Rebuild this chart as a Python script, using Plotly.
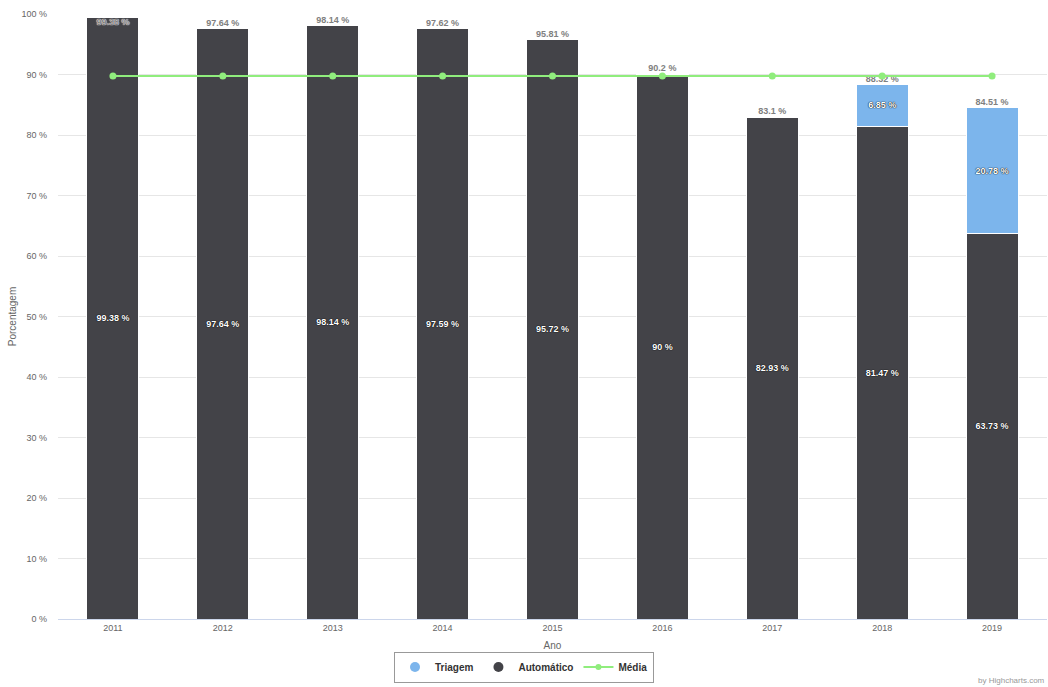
import plotly.graph_objects as go

# Series values per year (percent)
anos = ["2011", "2012", "2013", "2014", "2015", "2016", "2017", "2018", "2019"]
automatico = [99.38, 97.64, 98.14, 97.59, 95.72, 90.00, 82.93, 81.47, 63.73]
triagem = [0.00, 0.00, 0.00, 0.03, 0.09, 0.20, 0.17, 6.85, 20.78]
media = [89.75, 89.75, 89.75, 89.75, 89.75, 89.75, 89.75, 89.75, 89.75]
y_ticks = [0, 10, 20, 30, 40, 50, 60, 70, 80, 90, 100]

totais = [round(a + t, 2) for a, t in zip(automatico, triagem)]

FONT = "Liberation Sans, Arial, Helvetica, sans-serif"
COR_TRIAGEM = "#7cb5ec"
COR_AUTO = "#434348"
COR_MEDIA = "#90ed7d"


def fmt(v):
    return f"{v:g} %"


inside_font = dict(family=FONT, size=9, color="white", weight="bold",
                   shadow="0px 0px 1px #000, 0px 0px 1px #000")

fig = go.Figure()

fig.add_trace(go.Bar(
    x=anos, y=automatico, name="Automático", showlegend=False,
    marker=dict(color=COR_AUTO, line=dict(color="white", width=1)),
    text=[fmt(v) for v in automatico], textposition="inside",
    insidetextanchor="middle", textangle=0, constraintext="none",
    textfont=inside_font, hoverinfo="skip",
))
fig.add_trace(go.Bar(
    x=anos, y=triagem, name="Triagem", showlegend=False,
    marker=dict(color=COR_TRIAGEM, line=dict(color="white", width=1)),
    text=[fmt(v) if v >= 1 else "" for v in triagem], textposition="inside",
    insidetextanchor="middle", textangle=0, constraintext="none",
    textfont=inside_font, hoverinfo="skip",
))

# Stack totals above each column
fig.add_trace(go.Scatter(
    x=anos, y=totais, mode="text", showlegend=False,
    text=[fmt(v) for v in totais],
    textposition=["bottom center" if v > 99 else "top center" for v in totais],
    textfont=dict(family=FONT, size=9, color="#808080", weight="bold",
                  shadow="0px 0px 1px #fff, 0px 0px 1px #fff"),
    cliponaxis=False, hoverinfo="skip",
))

fig.add_trace(go.Scatter(
    x=anos, y=media, name="Média", mode="lines+markers",
    line=dict(color=COR_MEDIA, width=2),
    marker=dict(color=COR_MEDIA, size=7, symbol="circle"),
    showlegend=False, hoverinfo="skip",
))

# Legend entries with round symbols
fig.add_trace(go.Scatter(x=[None], y=[None], mode="markers", name="Triagem",
                         marker=dict(color=COR_TRIAGEM, size=10, symbol="circle")))
fig.add_trace(go.Scatter(x=[None], y=[None], mode="markers", name="Automático",
                         marker=dict(color=COR_AUTO, size=10, symbol="circle")))
fig.add_trace(go.Scatter(x=[None], y=[None], mode="lines+markers", name="Média",
                         line=dict(color=COR_MEDIA, width=2),
                         marker=dict(color=COR_MEDIA, size=6, symbol="circle")))

fig.update_layout(
    width=1048, height=687,
    margin=dict(l=58, r=1, t=14, b=68),
    barmode="stack", bargap=0.527,
    paper_bgcolor="white", plot_bgcolor="white",
    font=dict(family=FONT, size=9, color="#666666"),
    xaxis=dict(
        type="category", categoryorder="array", categoryarray=anos,
        showline=True, linecolor="#ccd6eb", linewidth=1,
        showgrid=False, ticks="", tickfont=dict(size=9, color="#666666"),
        automargin=False,
        title=dict(text="Ano", font=dict(size=10, color="#666666"), standoff=10),
    ),
    yaxis=dict(
        range=[0, 100], tickvals=y_ticks, ticktext=[f"{v} %" for v in y_ticks],
        showgrid=True, gridcolor="#e6e6e6", gridwidth=1, zeroline=False,
        tickfont=dict(size=9, color="#666666"), ticklabelstandoff=10,
        automargin=False,
        title=dict(text="Porcentagem", font=dict(size=10, color="#666666"), standoff=2),
    ),
    legend=dict(
        orientation="h", xref="container", yref="container",
        x=0.5, xanchor="center", y=0.029, yanchor="middle",
        bordercolor="#999999", borderwidth=1, bgcolor="white",
        font=dict(family=FONT, size=10, color="#333333", weight="bold"),
        traceorder="normal", tracegroupgap=0,
    ),
    annotations=[dict(
        text="by Highcharts.com", xref="paper", yref="paper",
        x=1, y=-0.102, xanchor="right", yanchor="middle", showarrow=False,
        font=dict(size=8, color="#999999"),
    )],
)

fig.write_html("out.html")
